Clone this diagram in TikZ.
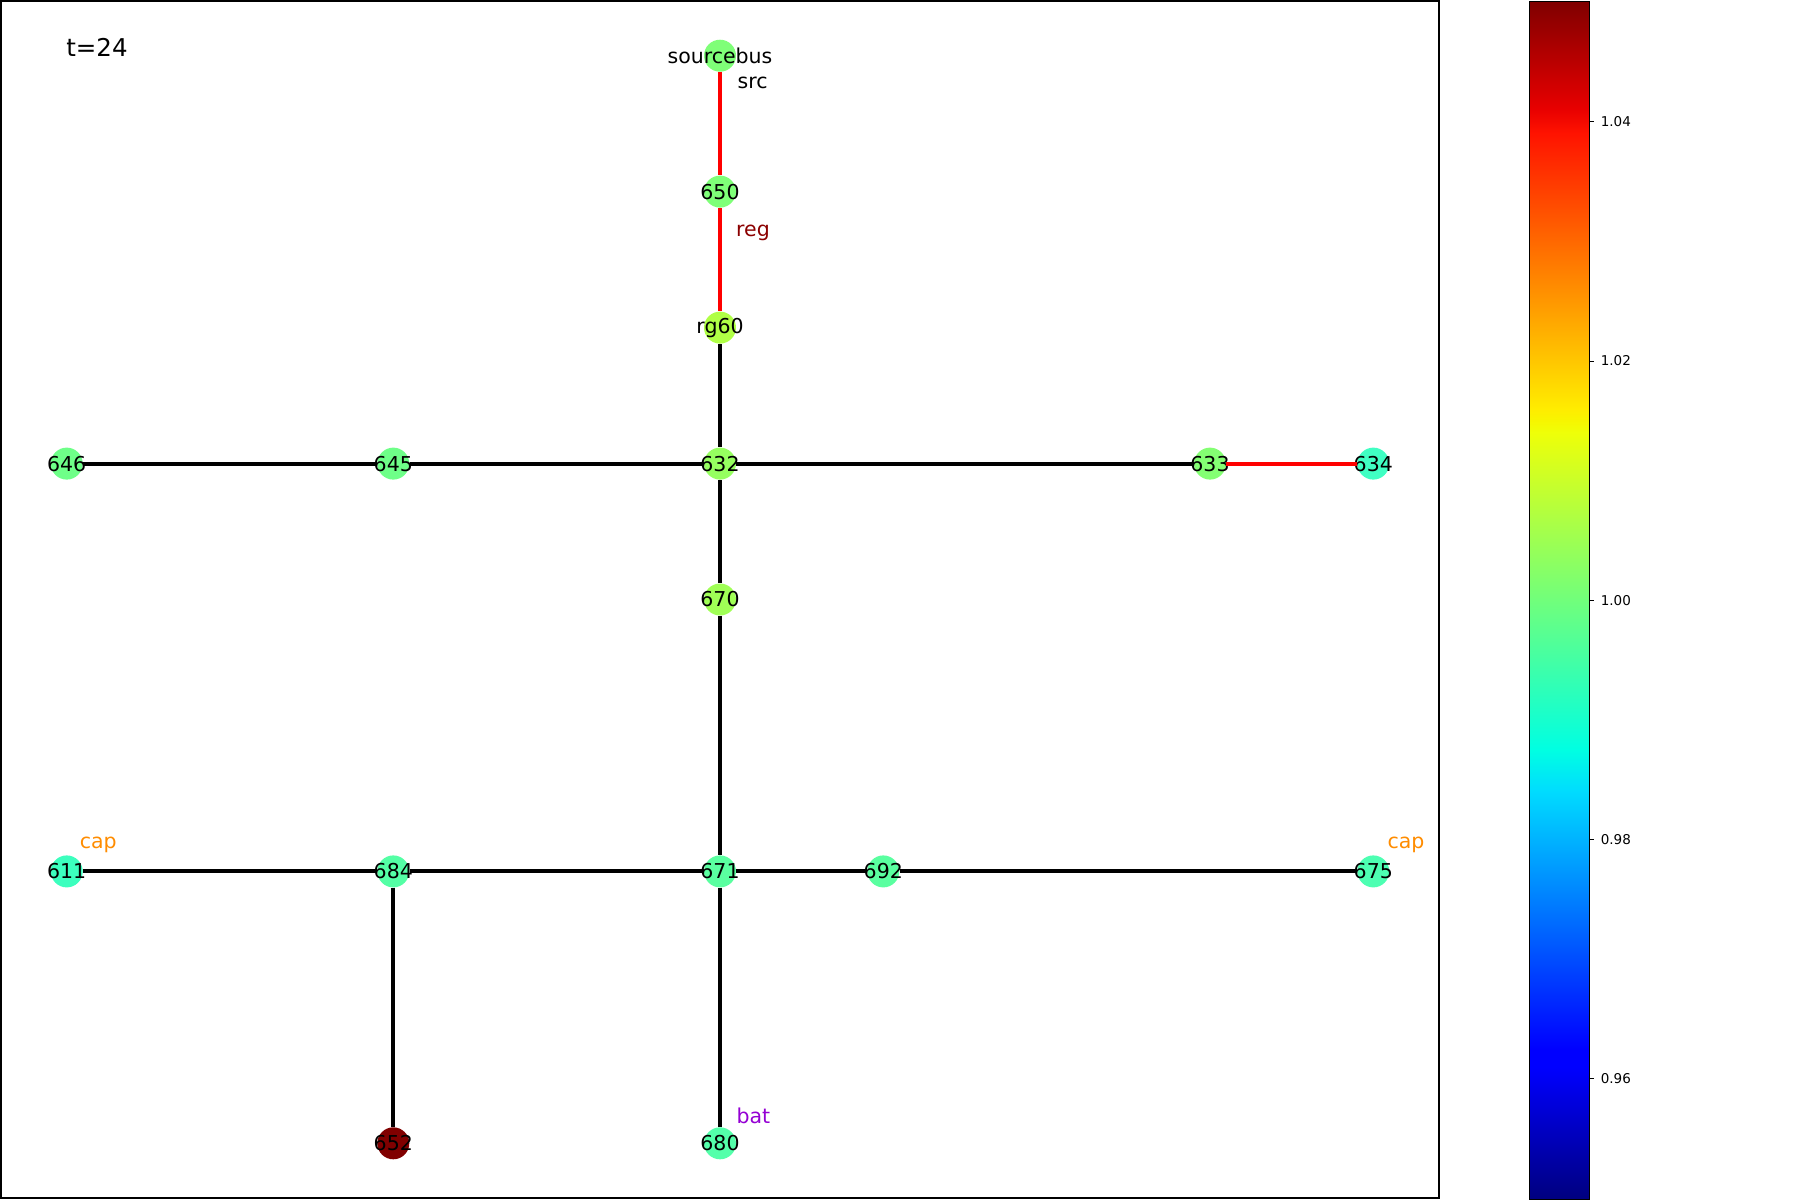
\documentclass[tikz,border=0pt]{standalone}
\usepackage{fontspec}
\setmainfont{DejaVu Sans}

\definecolor{vsrc}{RGB}{127,255,120}
\definecolor{v650}{RGB}{127,255,120}
\definecolor{vrg60}{RGB}{176,255,70}
\definecolor{v632}{RGB}{150,255,96}
\definecolor{v645}{RGB}{110,255,136}
\definecolor{v646}{RGB}{110,255,136}
\definecolor{v633}{RGB}{132,255,115}
\definecolor{v634}{RGB}{64,255,195}
\definecolor{v670}{RGB}{160,255,86}
\definecolor{v671}{RGB}{90,255,160}
\definecolor{v684}{RGB}{84,255,165}
\definecolor{v611}{RGB}{60,255,190}
\definecolor{v692}{RGB}{90,255,160}
\definecolor{v675}{RGB}{77,255,178}
\definecolor{v652}{RGB}{128,0,0}
\definecolor{v680}{RGB}{84,255,170}
\definecolor{capcol}{RGB}{255,140,0}
\definecolor{regcol}{RGB}{139,0,0}
\definecolor{batcol}{RGB}{148,0,211}

\pgfdeclareverticalshading{jetmap}{100bp}{rgb(0bp)=(0,0,0.5); rgb(25bp)=(0,0,0.5);
  rgb(30.5bp)=(0,0,1); rgb(31.25bp)=(0,0,1); rgb(42bp)=(0,0.86,1);
  rgb(42.5bp)=(0,0.9,0.968); rgb(43.75bp)=(0,1,0.887); rgb(57bp)=(0.935,1,0.032);
  rgb(57.5bp)=(0.968,0.963,0); rgb(58bp)=(1,0.926,0); rgb(69.5bp)=(1,0.074,0);
  rgb(70.5bp)=(0.909,0,0); rgb(75bp)=(0.5,0,0); rgb(100bp)=(0.5,0,0)}

\begin{document}
\begin{tikzpicture}[x=1pt,y=-1pt]
\tikzstyle{busnode} = [
  shape=circle,
  minimum size=32pt,
  inner sep=0pt,
  label={[font=\fontsize{20.5}{24}\selectfont, inner sep=0pt]center:#1}
]
\tikzstyle{tedge} = [
  draw = black,
  line width = 4pt
]
\tikzstyle{redge} = [
  draw = red,
  line width = 4pt
]
\tikzstyle{elabel} = [
  font=\fontsize{20.5}{24}\selectfont,
  inner sep=0pt
]

\useasboundingbox (0,0) rectangle (1800,1200);
\draw[line width=1.2pt] (1,1) rectangle (1439,1198);

\node [elabel, font=\fontsize{24.5}{28}\selectfont] (title) at (97,47.7) {t=24};

\node [busnode=sourcebus, fill=vsrc] (bsrc) at (720,55.7) {};
\node [busnode=650, fill=v650] (b650) at (720,191.6) {};
\node [busnode=rg60, fill=vrg60] (brg60) at (720,327.6) {};
\node [busnode=646, fill=v646] (b646) at (66.7,463.6) {};
\node [busnode=645, fill=v645] (b645) at (393.3,463.6) {};
\node [busnode=632, fill=v632] (b632) at (720,463.6) {};
\node [busnode=633, fill=v633] (b633) at (1210,463.6) {};
\node [busnode=634, fill=v634] (b634) at (1373.3,463.6) {};
\node [busnode=670, fill=v670] (b670) at (720,599.5) {};
\node [busnode=611, fill=v611] (b611) at (66.7,871.4) {};
\node [busnode=684, fill=v684] (b684) at (393.3,871.4) {};
\node [busnode=671, fill=v671] (b671) at (720,871.4) {};
\node [busnode=692, fill=v692] (b692) at (883.3,871.4) {};
\node [busnode=675, fill=v675] (b675) at (1373.3,871.4) {};
\node [busnode=652, fill=v652] (b652) at (393.3,1143.3) {};
\node [busnode=680, fill=v680] (b680) at (720,1143.3) {};

\draw[redge] (bsrc) -- (b650) -- (brg60);
\draw[redge] (b633) -- (b634);
\draw[tedge] (brg60) -- (b632) -- (b670) -- (b671) -- (b680);
\draw[tedge] (b646) -- (b645) -- (b632) -- (b633);
\draw[tedge] (b611) -- (b684) -- (b671) -- (b692) -- (b675);
\draw[tedge] (b684) -- (b652);

\node [elabel] (lsrc) at (752.7,82.7) {src};
\node [elabel, text=regcol] (lreg) at (753,232.7) {reg};
\node [elabel, text=capcol] (lcap1) at (98.3,845) {cap};
\node [elabel, text=capcol] (lcap2) at (1406,845) {cap};
\node [elabel, text=batcol] (lbat) at (753.3,1116) {bat};

% colour bar
\shade[shading=jetmap] (1529.3,1.3) rectangle (1589.3,1199);
\draw[line width=1pt] (1529.3,1.3) rectangle (1589.3,1199);
\foreach \v/\yy [count=\i] in {1.04/121.7, 1.02/361, 1.00/600.3, 0.98/839.6, 0.96/1078.9}
  \draw[line width=1pt] (1589.3,\yy) -- ++(5,0)
    node[anchor=west, inner sep=0pt, xshift=6pt, font=\fontsize{13.5}{16}\selectfont] (tick\i) {\v};

\end{tikzpicture}
\end{document}
